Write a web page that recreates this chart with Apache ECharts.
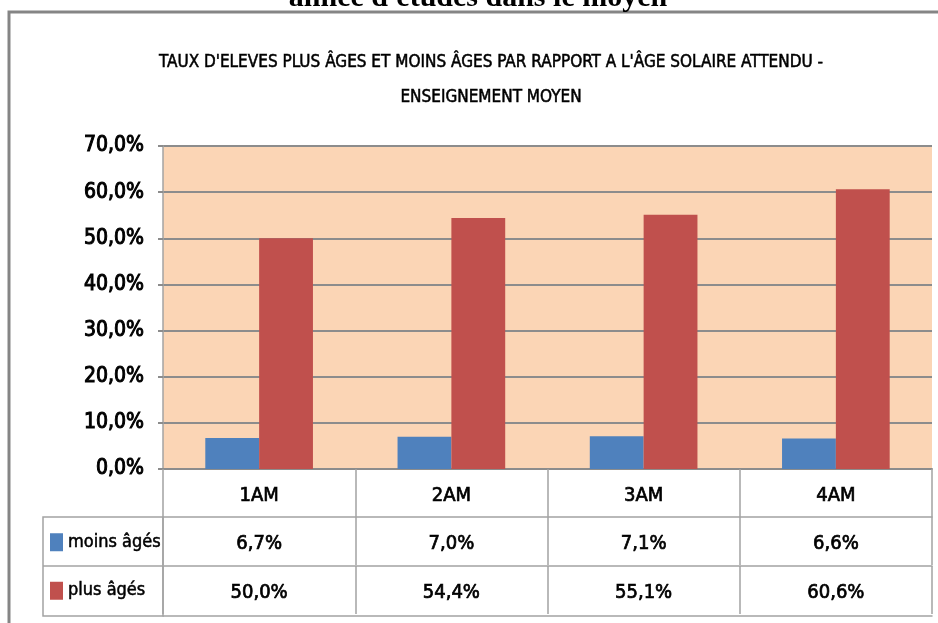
<!DOCTYPE html>
<html>
<head>
<meta charset="utf-8">
<script src="https://cdn.jsdelivr.net/npm/echarts@6/dist/echarts.min.js"></script>
<style>
  html, body { margin: 0; padding: 0; background: #fff; }
  #main { width: 938px; height: 623px; }
</style>
</head>
<body>
<div id="main"></div>
<script>
  // donnees
  const categories = ['1AM', '2AM', '3AM', '4AM'];
  const moinsAges = [6.7, 7.0, 7.1, 6.6];
  const plusAges = [50.0, 54.4, 55.1, 60.6];
  const seriesNames = ['moins âgés', 'plus âgés'];
  const yTicks = [0, 10, 20, 30, 40, 50, 60, 70];

  const FONT = '"Liberation Sans Narrow", "DejaVu Sans Condensed", sans-serif';
  const pct = v => v.toFixed(1).replace('.', ',') + '%';

  const chart = echarts.init(document.getElementById('main'), null, {renderer: 'canvas'});

  // texte un peu plus gras (Calibri semi-gras dans l'original)
  const txt = (size, border) => ({
    fontFamily: FONT,
    fontSize: size,
    color: '#000',
    textBorderColor: '#000',
    textBorderWidth: border
  });

  // axes du tableau de donnees sous le graphique
  const tableAxis = (offset, values, showLabel) => ({
    type: 'category',
    data: categories,
    gridIndex: 0,
    position: 'bottom',
    offset: offset,
    axisLine: {show: true, lineStyle: {color: '#a3a3a3', width: 1.5}},
    axisTick: {show: showLabel, length: 48, lineStyle: {color: '#a3a3a3', width: 1.5}},
    axisLabel: Object.assign({
      show: showLabel,
      margin: 17,
      formatter: (v, i) => values ? pct(values[i]) : v
    }, txt(20, 0.7))
  });

  const option = {
    animation: false,
    backgroundColor: '#fff',
    title: {
      text: "TAUX D'ELEVES PLUS ÂGES ET MOINS ÂGES PAR RAPPORT A L'ÂGE SOLAIRE ATTENDU -\nENSEIGNEMENT MOYEN",
      left: 486,
      top: 40,
      textAlign: 'center',
      textStyle: Object.assign(txt(17, 0.5), {fontWeight: 'normal', lineHeight: 35})
    },
    legend: {
      orient: 'vertical',
      left: 45,
      top: 528,
      selectedMode: false,
      icon: 'rect',
      itemWidth: 13,
      itemHeight: 18,
      itemGap: 30,
      data: seriesNames,
      textStyle: Object.assign(txt(18, 0.5), {lineHeight: 18})
    },
    grid: {
      left: 163, right: 6, top: 146, bottom: 154,
      show: true, backgroundColor: '#fbd5b5', borderWidth: 0
    },
    xAxis: [
      {
        type: 'category',
        data: categories,
        axisLine: {show: true, lineStyle: {color: '#8c8c8c', width: 2}},
        axisTick: {show: true, length: 48, lineStyle: {color: '#a3a3a3', width: 1.5}},
        axisLabel: Object.assign({margin: 17}, txt(20, 0.7))
      },
      tableAxis(48, moinsAges, true),
      tableAxis(97, plusAges, true),
      tableAxis(147, null, false)
    ],
    yAxis: {
      type: 'value',
      min: yTicks[0],
      max: yTicks[yTicks.length - 1],
      interval: 10,
      axisLine: {show: true, lineStyle: {color: '#a3a3a3', width: 1.5}},
      axisTick: {show: true, length: 5, lineStyle: {color: '#8c8c8c', width: 2}},
      splitLine: {show: true, lineStyle: {color: '#8c8c8c', width: 2}},
      axisLabel: Object.assign({
        margin: 19,
        formatter: v => pct(v)
      }, txt(21, 1))
    },
    series: [
      {
        name: seriesNames[0],
        type: 'bar',
        data: moinsAges,
        barGap: '0%',
        barCategoryGap: '44%',
        itemStyle: {color: '#4f81bd'}
      },
      {
        name: seriesNames[1],
        type: 'bar',
        data: plusAges,
        barGap: '0%',
        barCategoryGap: '44%',
        itemStyle: {color: '#c0504d'}
      }
    ],
    graphic: [
      {
        type: 'rect',
        shape: {x: 9, y: 12, width: 980, height: 660},
        style: {fill: null, stroke: '#858585', lineWidth: 3},
        silent: true
      },
      {
        type: 'text',
        x: 478,
        y: 13,
        style: {
          text: "année d'études dans le moyen",
          font: 'bold 30px "Liberation Serif", serif',
          fill: '#000',
          align: 'center',
          verticalAlign: 'bottom'
        }
      },
      // case de gauche du tableau (legende)
      {
        type: 'rect',
        shape: {x: 43, y: 517, width: 120, height: 99},
        style: {fill: null, stroke: '#a3a3a3', lineWidth: 1.5},
        silent: true
      },
      {
        type: 'line',
        shape: {x1: 43, y1: 566, x2: 163, y2: 566},
        style: {stroke: '#a3a3a3', lineWidth: 1.5},
        silent: true
      }
    ]
  };

  chart.setOption(option);
</script>
</body>
</html>
